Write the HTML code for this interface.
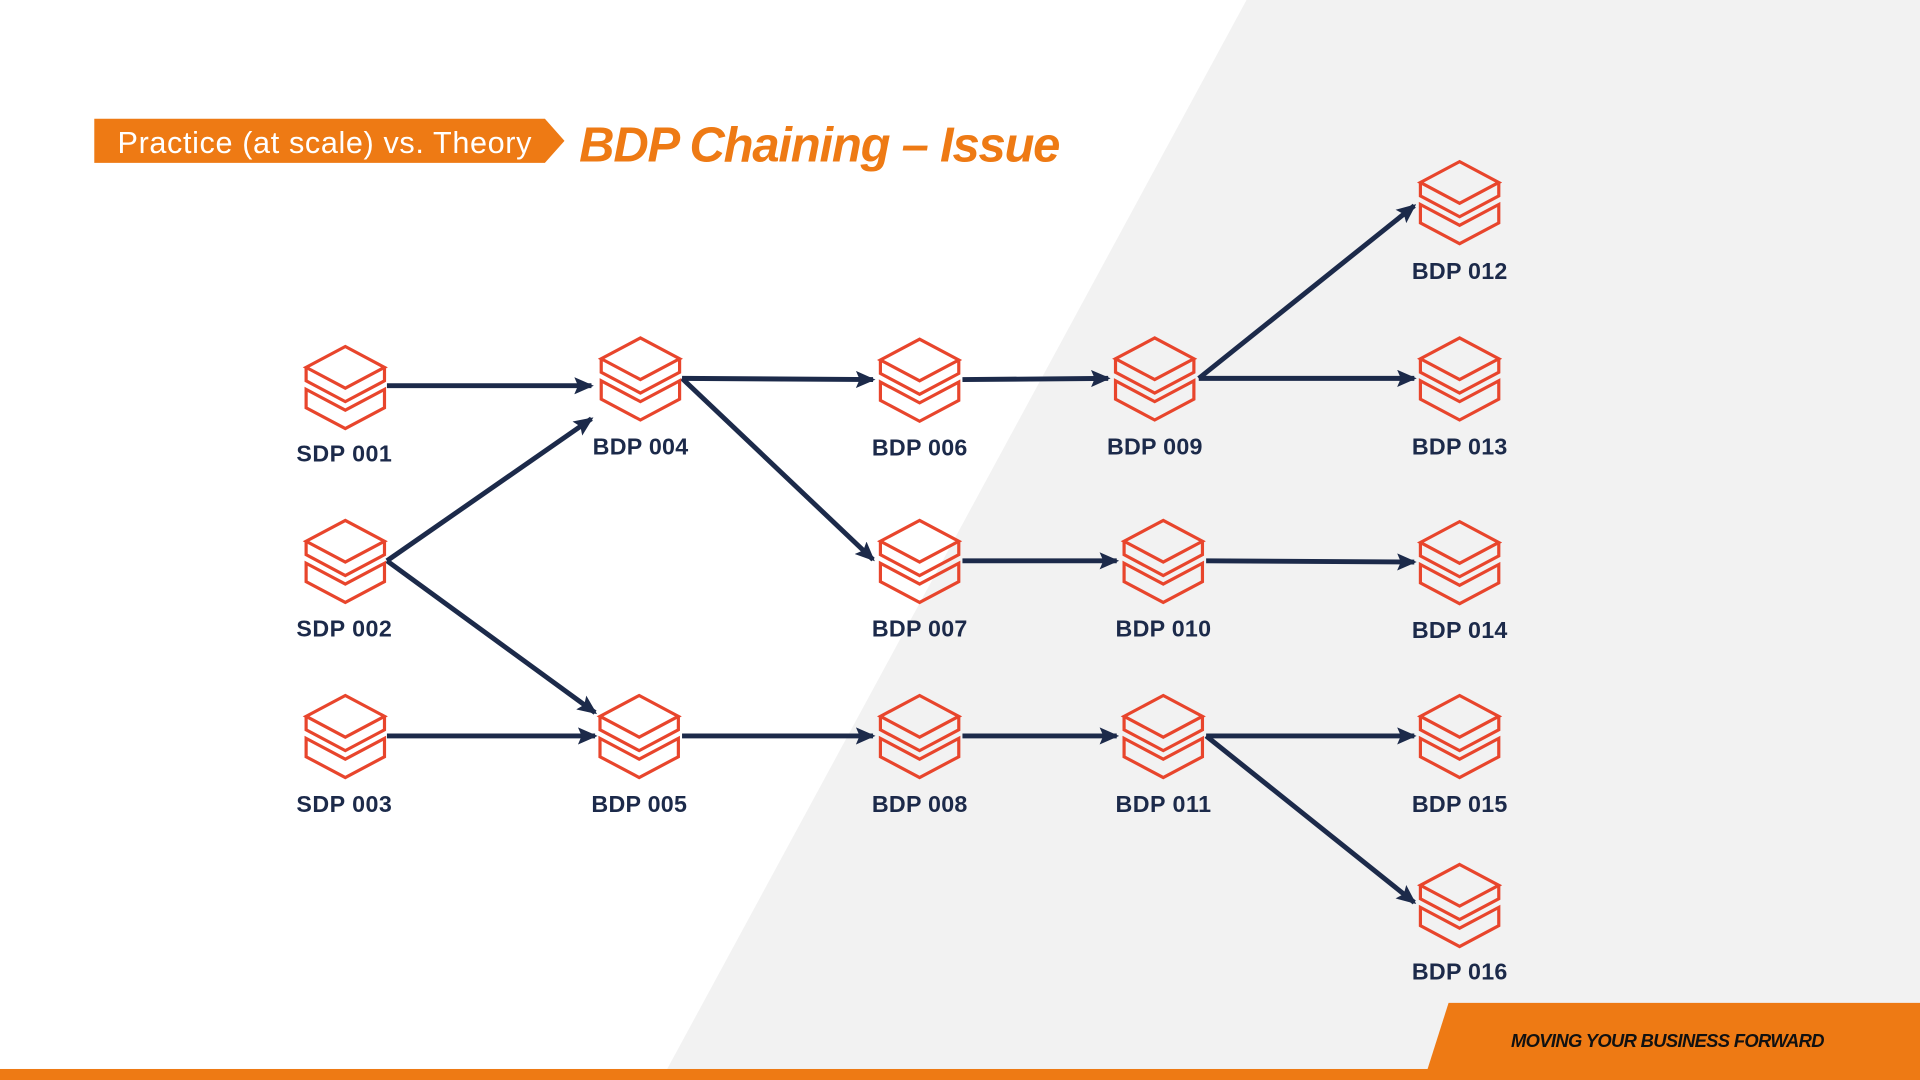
<!DOCTYPE html>
<html><head><meta charset="utf-8"><style>
html,body{margin:0;padding:0;background:#fff}
svg{display:block}
</style></head><body>
<svg width="1920" height="1080" viewBox="0 0 1568 882" xmlns="http://www.w3.org/2000/svg">
<defs>
<g id="ic" fill="none" stroke="#e8452c" stroke-width="2.6" stroke-linejoin="miter">
<path d="M0,-34 L32,-17 L0,0 L-32,-17 Z"/>
<path d="M-32,-17 V-6 L0,11 L32,-6 V-17"/>
<path d="M-32,1 L0,18 L32,1 V16 L0,33 L-32,16 Z"/>
</g>
<marker id="a" markerWidth="16" markerHeight="14" refX="14" refY="7" orient="auto" markerUnits="userSpaceOnUse">
<path d="M0,0 L16,7 L0,14 L3,7 Z" fill="#1c2a4a"/>
</marker>
</defs>
<polygon points="1018,0 1568,0 1568,882 540,882" fill="#f2f2f2"/>
<polygon points="1183,819 1568,819 1568,882 1163,882" fill="#ee7a14"/>
<rect x="0" y="873" width="1568" height="9" fill="#ee7a14"/>
<text x="1362" y="855" text-anchor="middle" font-family="Liberation Sans,sans-serif" font-weight="bold" font-style="italic" font-size="15" fill="#111" textLength="256">MOVING YOUR BUSINESS FORWARD</text>
<polygon points="77,97 445,97 461,115 445,133 77,133" fill="#ee7a14"/>
<text x="96" y="125" font-family="Liberation Sans,sans-serif" font-size="25" fill="#fff" textLength="338">Practice (at scale) vs. Theory</text>
<text x="473" y="132" font-family="Liberation Sans,sans-serif" font-weight="bold" font-style="italic" font-size="40" fill="#ee7a14" textLength="393">BDP Chaining – Issue</text>
<g stroke="#1c2a4a" stroke-width="4" marker-end="url(#a)">
<line x1="316" y1="315" x2="483" y2="315"/>
<line x1="316" y1="458" x2="483" y2="342"/>
<line x1="316" y1="458" x2="486" y2="582"/>
<line x1="316" y1="601" x2="486" y2="601"/>
<line x1="557" y1="309" x2="713" y2="310"/>
<line x1="557" y1="309" x2="713" y2="457"/>
<line x1="557" y1="601" x2="713" y2="601"/>
<line x1="786" y1="310" x2="905" y2="309"/>
<line x1="786" y1="458" x2="912" y2="458"/>
<line x1="786" y1="601" x2="912" y2="601"/>
<line x1="979" y1="309" x2="1155" y2="168"/>
<line x1="979" y1="309" x2="1155" y2="309"/>
<line x1="985" y1="458" x2="1155" y2="459"/>
<line x1="985" y1="601" x2="1155" y2="601"/>
<line x1="985" y1="601" x2="1155" y2="737"/>
</g>
<use href="#ic" x="282" y="317"/>
<use href="#ic" x="282" y="459"/>
<use href="#ic" x="282" y="602"/>
<use href="#ic" x="523" y="310"/>
<use href="#ic" x="522" y="602"/>
<use href="#ic" x="751" y="311"/>
<use href="#ic" x="751" y="459"/>
<use href="#ic" x="751" y="602"/>
<use href="#ic" x="943" y="310"/>
<use href="#ic" x="950" y="459"/>
<use href="#ic" x="950" y="602"/>
<use href="#ic" x="1192" y="166"/>
<use href="#ic" x="1192" y="310"/>
<use href="#ic" x="1192" y="460"/>
<use href="#ic" x="1192" y="602"/>
<use href="#ic" x="1192" y="740"/>
<g font-family="Liberation Sans,sans-serif" font-weight="bold" font-size="19" fill="#1c2a4a" text-anchor="middle">
<text x="281" y="377" textLength="78">SDP 001</text>
<text x="281" y="520" textLength="78">SDP 002</text>
<text x="281" y="663" textLength="78">SDP 003</text>
<text x="523" y="371" textLength="78">BDP 004</text>
<text x="522" y="663" textLength="78">BDP 005</text>
<text x="751" y="372" textLength="78">BDP 006</text>
<text x="751" y="520" textLength="78">BDP 007</text>
<text x="751" y="663" textLength="78">BDP 008</text>
<text x="943" y="371" textLength="78">BDP 009</text>
<text x="950" y="520" textLength="78">BDP 010</text>
<text x="950" y="663" textLength="78">BDP 011</text>
<text x="1192" y="228" textLength="78">BDP 012</text>
<text x="1192" y="371" textLength="78">BDP 013</text>
<text x="1192" y="521" textLength="78">BDP 014</text>
<text x="1192" y="663" textLength="78">BDP 015</text>
<text x="1192" y="800" textLength="78">BDP 016</text>
</g>
</svg>
</body></html>
